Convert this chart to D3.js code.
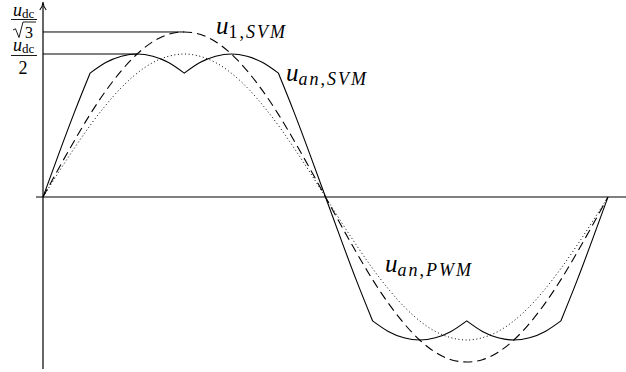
<!DOCTYPE html>
<html>
<head>
<meta charset="utf-8">
<script src="https://cdn.jsdelivr.net/npm/d3@7"></script>
<style>
  body { margin: 0; background: #fff; }
</style>
</head>
<body>
<svg id="chart" width="626" height="372"></svg>
<script>
// angle in degrees, one sample every 10 degrees over a full period
let angles = [0,10,20,30,40,50,60,70,80,90,100,110,120,130,140,150,160,170,180,
              190,200,210,220,230,240,250,260,270,280,290,300,310,320,330,340,350,360];

// fundamental of SVM (amplitude udc/sqrt3), in units of udc
let u1SVM = [0,0.100,0.197,0.289,0.371,0.442,0.500,0.543,0.569,0.577,0.569,0.543,0.500,0.442,0.371,0.289,0.197,0.100,0,
             -0.100,-0.197,-0.289,-0.371,-0.442,-0.500,-0.543,-0.569,-0.577,-0.569,-0.543,-0.500,-0.442,-0.371,-0.289,-0.197,-0.100,0];

// sinusoidal PWM phase voltage (amplitude udc/2)
let uanPWM = [0,0.087,0.171,0.250,0.321,0.383,0.433,0.470,0.492,0.500,0.492,0.470,0.433,0.383,0.321,0.250,0.171,0.087,0,
              -0.087,-0.171,-0.250,-0.321,-0.383,-0.433,-0.470,-0.492,-0.500,-0.492,-0.470,-0.433,-0.383,-0.321,-0.250,-0.171,-0.087,0];

// SVM phase voltage (with zero sequence), peaks at udc/2
let uanSVM = [0,0.150,0.296,0.433,0.470,0.492,0.500,0.492,0.470,0.433,0.470,0.492,0.500,0.492,0.470,0.433,0.296,0.150,0,
              -0.150,-0.296,-0.433,-0.470,-0.492,-0.500,-0.492,-0.470,-0.433,-0.470,-0.492,-0.500,-0.492,-0.470,-0.433,-0.296,-0.150,0];

// corners of the SVM waveform (degrees)
let cusps = [0,30,90,150,210,270,330,360];

// reference levels drawn as horizontal lines: value, angle where they end
let refLevels = [[0.577, 90], [0.5, 60]];

var serif = "'Liberation Serif', 'DejaVu Serif', serif";

var svg = d3.select("#chart");

var x = d3.scaleLinear().domain([0, 360]).range([43, 608]);
var y = d3.scaleLinear().domain([-0.6, 0.6]).range([368.6, 25.4]);

// axes
svg.append("line")
  .attr("x1", 36).attr("x2", 626)
  .attr("y1", y(0)).attr("y2", y(0))
  .style("stroke", "#000").style("stroke-width", 1.2);

svg.append("line")
  .attr("x1", x(0)).attr("x2", x(0))
  .attr("y1", 369).attr("y2", 6)
  .style("stroke", "#000").style("stroke-width", 1.2);

// arrow head on the y axis
svg.append("path")
  .attr("d", "M" + (x(0) - 3.2) + ",10 Q" + x(0) + ",6 " + x(0) + ",2 Q" + x(0) + ",6 " + (x(0) + 3.2) + ",10")
  .style("fill", "none").style("stroke", "#000").style("stroke-width", 1.1);

// reference level lines
svg.selectAll(".ref")
  .data(refLevels)
  .enter().append("line")
  .attr("class", "ref")
  .attr("x1", x(0)).attr("x2", d => x(d[1]))
  .attr("y1", d => y(d[0])).attr("y2", d => y(d[0]))
  .style("stroke", "#000").style("stroke-width", 1);

var pts = (vals) => angles.map((a, i) => [a, vals[i]]);

var smooth = d3.line()
  .x(d => x(d[0]))
  .y(d => y(d[1]))
  .curve(d3.curveNatural);

// dotted PWM curve
svg.append("path")
  .attr("d", smooth(pts(uanPWM)))
  .style("fill", "none").style("stroke", "#000")
  .style("stroke-width", 1).style("stroke-dasharray", "1,2.6");

// dashed fundamental
svg.append("path")
  .attr("d", smooth(pts(u1SVM)))
  .style("fill", "none").style("stroke", "#000")
  .style("stroke-width", 1.1).style("stroke-dasharray", "9,5");

// solid SVM curve, drawn piece by piece between the corners
var svmPts = pts(uanSVM);
var svmPath = "";
for (var k = 0; k < cusps.length - 1; k++) {
  var seg = svmPts.filter(p => p[0] >= cusps[k] && p[0] <= cusps[k + 1]);
  var s = smooth(seg);
  svmPath += (k === 0 ? s : "L" + s.slice(1));
}
svg.append("path")
  .attr("d", svmPath)
  .style("fill", "none").style("stroke", "#000")
  .style("stroke-width", 1.1).style("stroke-linejoin", "miter");

// y labels as fractions
function numerator(left, base) {
  var num = svg.append("text").attr("x", left).attr("y", base).style("font-family", serif);
  num.append("tspan").style("font-style", "italic").style("font-size", "18px").text("u");
  num.append("tspan").style("font-size", "13px").attr("dy", 2.5).text("dc");
}
function bar(by) {
  svg.append("line")
    .attr("x1", 11).attr("x2", 37)
    .attr("y1", by).attr("y2", by)
    .style("stroke", "#000").style("stroke-width", 0.9);
}

numerator(13, 15.5);
bar(19.5);
// square root sign
svg.append("path")
  .attr("d", "M13,30 L15.5,28.8 L19,37.5 L23,22 L36,22")
  .style("fill", "none").style("stroke", "#000").style("stroke-width", 0.9);
svg.append("text").attr("x", 25).attr("y", 37.5)
  .style("font-family", serif).style("font-size", "16px").text("3");

numerator(13, 50.5);
bar(55.5);
svg.append("text").attr("x", 23).attr("y", 74).attr("text-anchor", "middle")
  .style("font-family", serif).style("font-size", "18px").text("2");

// curve labels
function mathLabel(px, py, sub1, sub2) {
  var t = svg.append("text").attr("x", px).attr("y", py).style("font-family", serif);
  t.append("tspan").style("font-style", "italic").style("font-size", "25px").text("u");
  var s = t.append("tspan").attr("dy", 4).style("font-size", "18px").style("letter-spacing", "2px");
  s.append("tspan").style("font-style", sub1 === "1" ? "normal" : "italic").text(sub1);
  s.append("tspan").style("font-style", "normal").text(",");
  s.append("tspan").style("font-style", "italic").text(sub2);
}
mathLabel(216, 34, "1", "SVM");
mathLabel(286, 81, "an", "SVM");
mathLabel(385, 272, "an", "PWM");
</script>
</body>
</html>
